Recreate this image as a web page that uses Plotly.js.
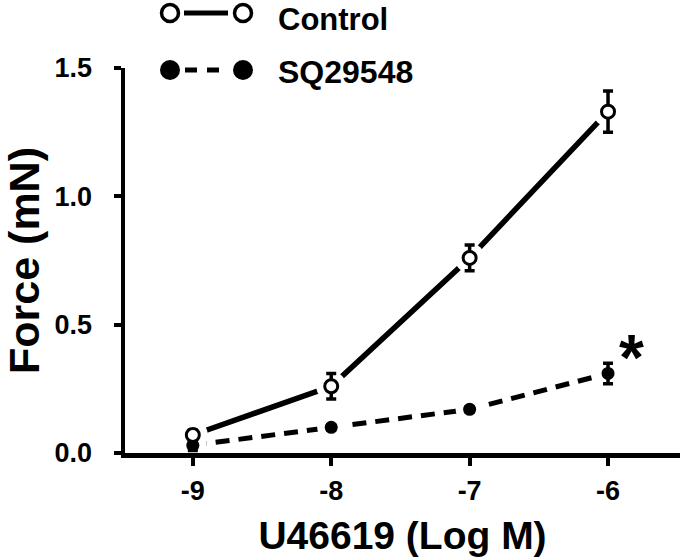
<!DOCTYPE html>
<html>
<head>
<meta charset="utf-8">
<script src="https://cdn.plot.ly/plotly-3.0.1.min.js"></script>
<style>html,body{margin:0;padding:0;background:#fff;}#chart{width:680px;height:560px;}</style>
</head>
<body>
<div id="chart"></div>
<script>
// Data
const logDose = [-9, -8, -7, -6];
const tickLabels = ['-9', '-8', '-7', '-6'];
const controlForce = [0.07, 0.26, 0.76, 1.33];
const controlErr = [0.02, 0.05, 0.05, 0.08];
const sqForce = [0.03, 0.10, 0.17, 0.31];
const sqErr = [0.02, 0.01, 0.01, 0.04];
const seriesNames = ['Control', 'SQ29548'];

const FONT = 'Liberation Sans, Arial, Helvetica, sans-serif';
const BLACK = '#000000';

const traces = [
  {x: logDose, y: controlForce, mode: 'lines', line: {color: BLACK, width: 5.5}, showlegend: false, hoverinfo: 'skip'},
  {x: logDose, y: sqForce, mode: 'lines', line: {color: BLACK, width: 5, dash: '14px,9px'}, showlegend: false, hoverinfo: 'skip'},
  {x: logDose, y: controlForce, mode: 'markers', marker: {color: '#ffffff', size: 30, line: {width: 0}}, showlegend: false, hoverinfo: 'skip'},
  {x: logDose, y: sqForce, mode: 'markers', marker: {color: '#ffffff', size: 28, line: {width: 0}}, showlegend: false, hoverinfo: 'skip'},
  {x: logDose, y: sqForce, name: seriesNames[1], mode: 'markers',
   marker: {symbol: 'circle', color: BLACK, size: 13, line: {width: 0}},
   error_y: {type: 'data', array: sqErr, visible: true, color: BLACK, thickness: 3.5, width: 5},
   showlegend: false},
  {x: logDose, y: controlForce, name: seriesNames[0], mode: 'markers',
   marker: {symbol: 'circle', color: '#ffffff', size: 13, line: {width: 3, color: BLACK}},
   error_y: {type: 'data', array: controlErr, visible: true, color: BLACK, thickness: 3.5, width: 5},
   showlegend: false}
];

const L = 125, W = 555, B = 453, H = 385;
const px = v => (v - L) / W;
const py = v => (B - v) / H;

const shapes = [
  {type: 'line', xref: 'paper', yref: 'paper', x0: px(184), x1: px(228), y0: py(13), y1: py(13), line: {color: BLACK, width: 5}},
  {type: 'circle', xref: 'paper', yref: 'paper', xsizemode: 'pixel', ysizemode: 'pixel', xanchor: px(170), yanchor: py(13), x0: -8.5, x1: 8.5, y0: -8.5, y1: 8.5, fillcolor: '#ffffff', line: {color: BLACK, width: 3.5}},
  {type: 'circle', xref: 'paper', yref: 'paper', xsizemode: 'pixel', ysizemode: 'pixel', xanchor: px(243), yanchor: py(13), x0: -8.5, x1: 8.5, y0: -8.5, y1: 8.5, fillcolor: '#ffffff', line: {color: BLACK, width: 3.5}},
  {type: 'line', xref: 'paper', yref: 'paper', x0: px(185), x1: px(221), y0: py(70), y1: py(70), line: {color: BLACK, width: 5, dash: '12px,10px'}},
  {type: 'circle', xref: 'paper', yref: 'paper', xsizemode: 'pixel', ysizemode: 'pixel', xanchor: px(170), yanchor: py(70), x0: -10, x1: 10, y0: -10, y1: 10, fillcolor: BLACK, line: {color: BLACK, width: 0}},
  {type: 'circle', xref: 'paper', yref: 'paper', xsizemode: 'pixel', ysizemode: 'pixel', xanchor: px(243), yanchor: py(70), x0: -10, x1: 10, y0: -10, y1: 10, fillcolor: BLACK, line: {color: BLACK, width: 0}}
];

const annotations = [
  {xref: 'paper', yref: 'paper', x: px(276), y: py(0), xanchor: 'left', yanchor: 'top', text: seriesNames[0], showarrow: false, font: {family: FONT, size: 31, color: BLACK, weight: 700}},
  {xref: 'paper', yref: 'paper', x: px(276), y: py(72), xanchor: 'left', yanchor: 'middle', text: seriesNames[1], showarrow: false, font: {family: FONT, size: 32, color: BLACK, weight: 700}},
  {xref: 'x', yref: 'y', x: -5.83, y: 0.41, xanchor: 'center', yanchor: 'middle', yshift: -10, text: '*', showarrow: false, font: {family: FONT, size: 64, color: BLACK, weight: 700}}
];

const layout = {
  width: 680, height: 560,
  margin: {l: 125, r: 0, t: 68, b: 107, pad: 0},
  paper_bgcolor: '#ffffff', plot_bgcolor: '#ffffff',
  showlegend: false,
  font: {family: FONT, color: BLACK, weight: 700},
  xaxis: {
    range: [-9.49, -5.48], tickvals: logDose, ticktext: tickLabels,
    showline: true, linecolor: BLACK, linewidth: 4.5, showgrid: false, zeroline: false,
    ticks: 'outside', ticklen: 8, tickwidth: 4, tickcolor: BLACK,
    tickfont: {family: FONT, size: 27, color: BLACK, weight: 700}, ticklabelstandoff: 2,
    title: {text: 'U46619 (Log M)', font: {family: FONT, size: 39, color: BLACK, weight: 700}, standoff: 18},
    fixedrange: true
  },
  yaxis: {
    range: [0, 1.5], tickvals: [0, 0.5, 1.0, 1.5], tickformat: '.1f',
    showline: true, linecolor: BLACK, linewidth: 4.5, showgrid: false, zeroline: false,
    ticks: 'outside', ticklen: 7, tickwidth: 4, tickcolor: BLACK,
    tickfont: {family: FONT, size: 27, color: BLACK, weight: 700}, ticklabelstandoff: 16,
    title: {text: 'Force (mN)', font: {family: FONT, size: 43, color: BLACK, weight: 700}, standoff: 20},
    fixedrange: true
  },
  shapes: shapes,
  annotations: annotations
};

Plotly.newPlot('chart', traces, layout, {staticPlot: true, displayModeBar: false});
</script>
</body>
</html>
